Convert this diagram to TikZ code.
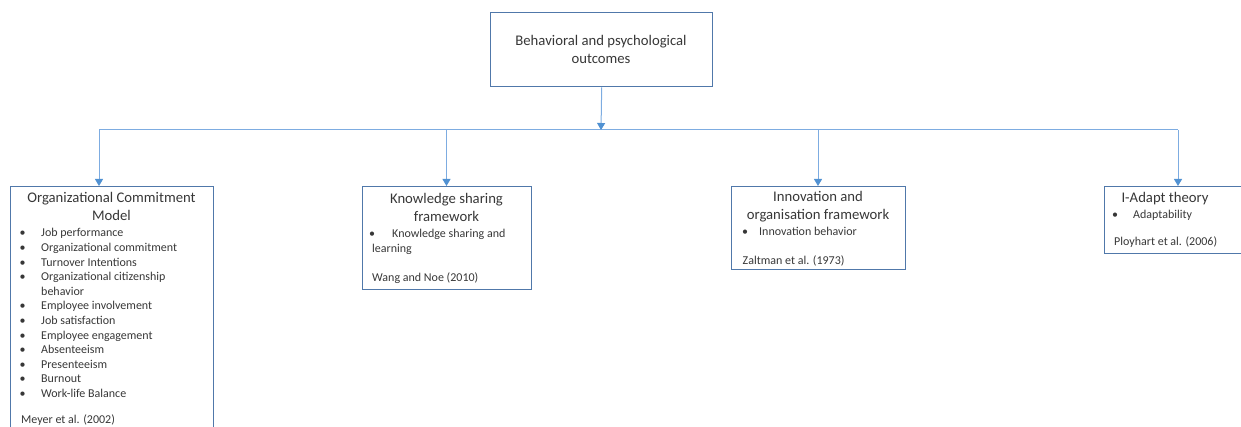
\documentclass[tikz,border=0pt]{standalone}
\usepackage{fontspec}
\setmainfont{Carlito}
\usetikzlibrary{arrows.meta, positioning}

\definecolor{boxblue}{RGB}{80,120,170}
\definecolor{linkblue}{RGB}{125,172,225}
\definecolor{tipblue}{RGB}{80,145,210}
\definecolor{txtgray}{RGB}{55,55,55}
\newcommand\headfont{\fontsize{14.7}{17.9}\selectfont}
\newcommand\listfont{\fontsize{12}{14.6}\selectfont}

\begin{document}
\begin{tikzpicture}[x=1pt, y=-1pt,
  box/.style={draw=boxblue, line width=1.4pt, anchor=north west, inner sep=0pt},
  head/.style={text=txtgray, font=\headfont, anchor=base, inner sep=0pt},
  items/.style={text=txtgray, font=\listfont, anchor=base west, inner sep=0pt},
  link/.style={draw=linkblue, line width=1pt},
  arrow/.style={link, -{Triangle[width=8pt,length=7pt,color=tipblue]}}]

  \clip (0,0) rectangle (1241,427);

  % boxes
  \node[box, minimum width=222, minimum height=74] (top) at (490,12) {};
  \node[box, minimum width=203, minimum height=260] (b1) at (10,186) {};
  \node[box, minimum width=169, minimum height=103] (b2) at (362,186) {};
  \node[box, minimum width=174, minimum height=83] (b3) at (731,186) {};
  \node[box, minimum width=150, minimum height=67] (b4) at (1104,186) {};

  % headings
  \node[head] (htop) at (601,46) {\begin{tabular}[t]{@{}c@{}}Behavioral and psychological\\outcomes\end{tabular}};
  \node[head] (h1) at (111.5,203) {\begin{tabular}[t]{@{}c@{}}Organizational Commitment\\Model\end{tabular}};
  \node[head] (h2) at (446.5,204) {\begin{tabular}[t]{@{}c@{}}Knowledge sharing\\framework\end{tabular}};
  \node[head] (h3) at (818,202) {\begin{tabular}[t]{@{}c@{}}Innovation and\\organisation framework\end{tabular}};
  \node[head] (h4) at (1165,203) {I-Adapt theory};

  % bullet lists
  \node[items] (l1) at (19.5,237) {\begin{tabular}[t]{@{}p{21.5pt}@{}l@{}}
    \textbullet & Job performance\\
    \textbullet & Organizational commitment\\
    \textbullet & Turnover Intentions\\
    \textbullet & Organizational citizenship\\
                & behavior\\
    \textbullet & Employee involvement\\
    \textbullet & Job satisfaction\\
    \textbullet & Employee engagement\\
    \textbullet & Absenteeism\\
    \textbullet & Presenteeism\\
    \textbullet & Burnout\\
    \textbullet & Work-life Balance
  \end{tabular}};
  \node[items] (l2) at (369,238) {\begin{tabular}[t]{@{}p{23pt}@{}l@{}}
    \textbullet & Knowledge sharing and\\
    \multicolumn{2}{@{\hspace{3pt}}l@{}}{learning}
  \end{tabular}};
  \node[items] (l3) at (742,236) {\begin{tabular}[t]{@{}p{17pt}@{}l@{}}
    \textbullet & Innovation behavior
  \end{tabular}};
  \node[items] (l4) at (1112,219) {\begin{tabular}[t]{@{}p{21pt}@{}l@{}}
    \textbullet & Adaptability
  \end{tabular}};

  % sources
  \node[items] (c1) at (21,423) {Meyer et al. (2002)};
  \node[items] (c2) at (372,282) {Wang and Noe (2010)};
  \node[items] (c3) at (742.5,265) {Zaltman et al. (1973)};
  \node[items] (c4) at (1114,246) {Ployhart et al. (2006)};

  % connectors
  \coordinate (bus) at (601,130);
  \coordinate (j1) at (99,130);
  \coordinate (j2) at (446.5,130);
  \coordinate (j3) at (818,130);
  \coordinate (j4) at (1178,130);
  \draw[link] (j1) -- (j4);
  \draw[arrow] (top.south) -- (bus);
  \foreach \j/\b in {j1/b1, j2/b2, j3/b3, j4/b4}
    \draw[arrow] (\j) -- (\j |- \b.north);
\end{tikzpicture}
\end{document}
